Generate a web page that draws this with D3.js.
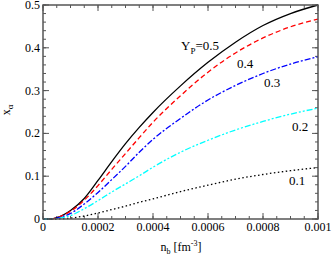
<!DOCTYPE html>
<html>
<head>
<meta charset="utf-8">
<script src="https://cdn.jsdelivr.net/npm/d3@7"></script>
<style>
  body { margin: 0; background: #fff; }
  svg { display: block; font-family: "Liberation Serif", "DejaVu Serif", serif; }
</style>
</head>
<body>
<div id="chart"></div>
<script>
// n_b grid [fm^-3]
var nb = [0, 0.00003, 0.00005, 0.0001, 0.00015, 0.0002, 0.00025, 0.0003, 0.00035, 0.0004, 0.0005, 0.0006, 0.0007, 0.0008, 0.0009, 0.001];

// alpha fraction x_alpha for each proton fraction Y_p
var yp05 = [0, 0, 0.003, 0.020, 0.048, 0.090, 0.134, 0.176, 0.214, 0.249, 0.311, 0.366, 0.413, 0.452, 0.480, 0.500];
var yp04 = [0, 0, 0.003, 0.018, 0.044, 0.078, 0.116, 0.153, 0.190, 0.226, 0.288, 0.343, 0.388, 0.423, 0.449, 0.467];
var yp03 = [0, 0, 0.002, 0.013, 0.035, 0.062, 0.092, 0.123, 0.156, 0.186, 0.235, 0.278, 0.312, 0.340, 0.362, 0.379];
var yp02 = [0, 0, 0.001, 0.008, 0.024, 0.043, 0.063, 0.082, 0.101, 0.121, 0.156, 0.184, 0.208, 0.228, 0.245, 0.259];
var yp01 = [0, 0, 0.000, 0.002, 0.007, 0.014, 0.022, 0.030, 0.039, 0.047, 0.064, 0.079, 0.093, 0.104, 0.113, 0.120];

var xTicks = [0, 0.0002, 0.0004, 0.0006, 0.0008, 0.001];
var xTickLabels = ["0", "0.0002", "0.0004", "0.0006", "0.0008", "0.001"];
var yTicks = [0, 0.1, 0.2, 0.3, 0.4, 0.5];
var yTickLabels = ["0", "0.1", "0.2", "0.3", "0.4", "0.5"];

var series = [
    { name: "0.5", values: yp05, color: "#000000", dash: null },
    { name: "0.4", values: yp04, color: "#ff0000", dash: "5,3" },
    { name: "0.3", values: yp03, color: "#0000ff", dash: "6,2,2,2" },
    { name: "0.2", values: yp02, color: "#00ffff", dash: "6,2,2,2,2,2" },
    { name: "0.1", values: yp01, color: "#000000", dash: "1.5,2.5" }
];

var w = 333, h = 257,
    margin = { left: 43, right: 15, top: 5, bottom: 38 };

var svg = d3.select('#chart')
    .append('svg')
    .attr('width', w)
    .attr('height', h);

var x = d3.scaleLinear().domain([0, 0.001]).range([margin.left, w - margin.right]);
var y = d3.scaleLinear().domain([0, 0.5]).range([h - margin.bottom, margin.top]);

var frameColor = "#555";

// ticks, inward on all four sides
var xMinor = d3.range(0, 0.00100001, 0.00005);
var yMinor = d3.range(0, 0.50001, 0.02);

function drawXTicks(vals, len){
    vals.forEach(function(v){
        var px = x(v);
        svg.append('line').attr('x1', px).attr('x2', px).attr('y1', y(0)).attr('y2', y(0) - len)
            .attr('stroke', frameColor).attr('stroke-width', 1);
        svg.append('line').attr('x1', px).attr('x2', px).attr('y1', y(0.5)).attr('y2', y(0.5) + len)
            .attr('stroke', frameColor).attr('stroke-width', 1);
    });
}
drawXTicks(xMinor, 3);
drawXTicks(xTicks, 6);

function drawYTicks(vals, len){
    vals.forEach(function(v){
        var py = y(v);
        svg.append('line').attr('x1', x(0)).attr('x2', x(0) + len).attr('y1', py).attr('y2', py)
            .attr('stroke', frameColor).attr('stroke-width', 1);
        svg.append('line').attr('x1', x(0.001)).attr('x2', x(0.001) - len).attr('y1', py).attr('y2', py)
            .attr('stroke', frameColor).attr('stroke-width', 1);
    });
}
drawYTicks(yMinor, 3);
drawYTicks(yTicks, 6);

// curves
var line = d3.line()
    .x(function(d){ return x(d[0]); })
    .y(function(d){ return y(d[1]); })
    .curve(d3.curveMonotoneX);

series.forEach(function(s){
    var pts = nb.map(function(n, i){ return [n, s.values[i]]; });
    svg.append('path')
        .attr('d', line(pts))
        .attr('fill', 'none')
        .attr('stroke', s.color)
        .attr('stroke-width', 1.3)
        .attr('stroke-dasharray', s.dash);
});

// frame
svg.append('rect')
    .attr('x', x(0)).attr('y', y(0.5))
    .attr('width', x(0.001) - x(0)).attr('height', y(0) - y(0.5))
    .attr('fill', 'none').attr('stroke', frameColor).attr('stroke-width', 1.5);

// tick labels
svg.selectAll('.xlab').data(xTicks).enter().append('text')
    .attr('x', function(d){ return x(d); })
    .attr('y', 231)
    .attr('text-anchor', 'middle')
    .attr('font-size', 12)
    .text(function(d, i){ return xTickLabels[i]; });

svg.selectAll('.ylab').data(yTicks).enter().append('text')
    .attr('x', 40)
    .attr('y', function(d){ return y(d) + 4; })
    .attr('text-anchor', 'end')
    .attr('font-size', 12)
    .text(function(d, i){ return yTickLabels[i]; });

// axis titles
var xt = svg.append('text').attr('x', 181).attr('y', 251).attr('text-anchor', 'middle').attr('font-size', 12);
xt.append('tspan').text('n');
xt.append('tspan').attr('font-size', 8).attr('dy', 3).text('b');
xt.append('tspan').attr('dy', -3).text(' [fm');
xt.append('tspan').attr('font-size', 8).attr('dy', -5).text('-3');
xt.append('tspan').attr('dy', 5).text(']');

var yt = svg.append('text').attr('transform', 'translate(10,110) rotate(-90)').attr('text-anchor', 'middle').attr('font-size', 12);
yt.append('tspan').text('x');
yt.append('tspan').attr('font-size', 9).attr('dy', 3).text('α');

// curve labels
var l5 = svg.append('text').attr('x', 181).attr('y', 50).attr('font-size', 13);
l5.append('tspan').text('Y');
l5.append('tspan').attr('font-size', 9).attr('dy', 4).text('P');
l5.append('tspan').attr('dy', -4).text('=0.5');

var labelPos = [["0.4", 237, 68], ["0.3", 264, 87], ["0.2", 292, 131], ["0.1", 289, 185]];
labelPos.forEach(function(p){
    svg.append('text').attr('x', p[1]).attr('y', p[2]).attr('font-size', 13).text(p[0]);
});
</script>
</body>
</html>
